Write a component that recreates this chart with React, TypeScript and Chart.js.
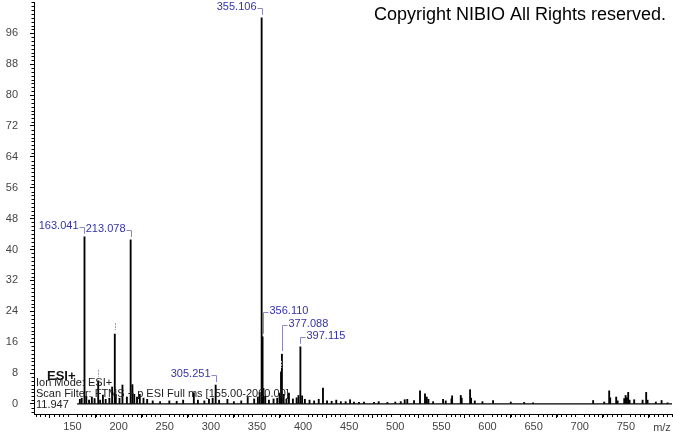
import React, { useEffect, useRef } from "react";
import { Chart, registerables } from "chart.js";

Chart.register(...registerables);

// ---- data (m/z, relative abundance) ----
const SCAN_RANGE_START = 155;
const X_MIN = 108.3;
const X_MAX = 800;
const Y_MIN = -2.6;
const Y_MAX = 104.1;

const MZ = [
  158, 160, 163.041, 165, 168, 171, 174, 177.9, 180, 183, 186, 190, 193, 195.9, 197, 201, 204.2, 209,
  213.078, 215, 217, 220, 223, 227, 231, 237, 245, 255, 263, 270, 281.6, 286, 293, 298, 302, 305.251,
  309, 318, 325, 333, 340, 347, 351, 353, 355.106, 356.11, 357.1, 359, 363, 368, 372, 374.5, 376.1,
  377.088, 379, 382, 384.7, 389, 393, 395, 397.115, 399, 402, 407, 412, 417, 421.6, 426, 431, 436,
  441, 446.2, 451, 455.2, 460.6, 466, 476.9, 482, 491.4, 500, 505.9, 510.2, 513, 520.3, 526.8, 532.2,
  534.1, 535.9, 541, 551.8, 554.7, 560.9, 561.6, 571, 572, 581.1, 582.2, 586.2, 594.5, 606, 625.2,
  639.7, 649.4, 714.5, 726.5, 731.9, 733, 739.5, 741, 748.2, 749.7, 751.1, 752.5, 754, 759, 768.1,
  772, 773.5, 782.5, 788.7, 795.2,
];
const INTENSITY = [
  1.2, 1.5, 43.3, 2.0, 1.0, 1.8, 1.4, 6.0, 1.0, 2.3, 1.2, 1.5, 4.4, 18.1, 2.5, 1.5, 4.9, 1.8,
  42.5, 5.0, 2.5, 1.8, 2.5, 1.5, 1.2, 0.8, 0.6, 0.8, 0.7, 1.0, 2.9, 1.0, 0.8, 1.2, 1.5, 4.9,
  1.0, 1.2, 0.6, 0.8, 1.7, 1.3, 1.8, 3.0, 100, 17.4, 4.0, 2.0, 1.0, 1.3, 1.5, 2.8, 8.3,
  12.9, 2.5, 1.2, 2.8, 1.3, 1.6, 2.2, 14.8, 2.1, 1.2, 1.0, 0.8, 1.2, 4.1, 0.8, 0.7, 1.0,
  0.6, 0.6, 1.1, 0.5, 0.4, 0.5, 0.4, 0.6, 0.4, 0.5, 0.6, 1.1, 1.2, 0.9, 3.4, 2.6,
  1.8, 1.2, 0.6, 1.2, 0.8, 1.3, 2.1, 2.2, 1.5, 3.7, 1.5, 0.8, 0.6, 0.9, 0.5,
  0.4, 0.3, 0.9, 0.5, 3.4, 1.6, 1.8, 0.8, 1.4, 2.2, 1.6, 3.0, 1.0, 1.1, 1.0,
  3.0, 1.0, 0.5, 0.9, 0.3,
];

const LABELED_PEAKS = [163.041, 213.078, 305.251, 355.106, 356.11, 377.088, 397.115];
const LABEL_TEXTS = ["163.041", "213.078", "305.251", "355.106", "356.110", "377.088", "397.115"];
const LABEL_TEXT_Y = [46.2, 45.2, 7.8, 102.7, 24.2, 20.8, 17.7];
const LABEL_SIDE = ["left", "left", "left", "left", "right", "right", "right"];
const MARKED_PEAKS = [177.9, 195.9, 376.1];

const X_TICK_STEP = 50;
const X_MINOR_STEP = 5;
const Y_TICK_STEP = 8;
const Y_MINOR_STEP = 1;

const COPYRIGHT = "Copyright NIBIO All Rights reserved.";
const INFO_TITLE = "ESI+";
const INFO_LINES = ["Ion Mode: ESI+", "Scan Filter: FTMS + p ESI Full ms [155.00-2000.00]", "11.947"];
const X_UNIT = "m/z";

const FONT = "Arial, 'Liberation Sans', sans-serif";

function intensityOf(mz: number): number {
  const i = MZ.indexOf(mz);
  return i >= 0 ? INTENSITY[i] : 0;
}

const overlayPlugin = {
  id: "overlay",
  afterDraw(chart: any) {
    const ctx = chart.ctx;
    const xs = chart.scales.x;
    const ys = chart.scales.y;
    const area = chart.chartArea;
    ctx.save();

    // minor ticks
    ctx.strokeStyle = "#000";
    ctx.lineWidth = 1;
    ctx.beginPath();
    for (let v = Math.ceil(Y_MIN); v <= Y_MAX; v += Y_MINOR_STEP) {
      if (v % Y_TICK_STEP === 0 && v >= 0 && v <= 96) continue;
      const py = Math.round(ys.getPixelForValue(v)) + 0.5;
      ctx.moveTo(area.left - 2.5, py);
      ctx.lineTo(area.left, py);
    }
    for (let v = 110; v <= X_MAX; v += X_MINOR_STEP) {
      if (v % X_TICK_STEP === 0 && v >= 150 && v <= 750) continue;
      const px = Math.round(xs.getPixelForValue(v)) + 0.5;
      ctx.moveTo(px, area.bottom);
      ctx.lineTo(px, area.bottom + 3);
    }
    ctx.stroke();

    // labels with brackets
    ctx.font = "11px " + FONT;
    ctx.textBaseline = "middle";
    LABELED_PEAKS.forEach((mz, i) => {
      const px = Math.round(xs.getPixelForValue(mz)) + 0.5;
      const top = ys.getPixelForValue(intensityOf(mz));
      const ty = ys.getPixelForValue(LABEL_TEXT_Y[i]);
      const by = Math.round(ty + 1) + 0.5;
      ctx.strokeStyle = "#8a8ab8";
      ctx.beginPath();
      if (LABEL_SIDE[i] === "left") {
        ctx.moveTo(px - 5, by);
      } else {
        ctx.moveTo(px + 5, by);
      }
      ctx.lineTo(px, by);
      ctx.lineTo(px, top - 3);
      ctx.stroke();
      ctx.fillStyle = "#3434a4";
      if (LABEL_SIDE[i] === "left") {
        ctx.textAlign = "right";
        ctx.fillText(LABEL_TEXTS[i], px - 6, ty);
      } else {
        ctx.textAlign = "left";
        ctx.fillText(LABEL_TEXTS[i], px + 6, ty);
      }
    });

    // unlabeled markers
    ctx.strokeStyle = "#9c9cb8";
    ctx.setLineDash([2, 1]);
    MARKED_PEAKS.forEach((mz) => {
      const px = Math.round(xs.getPixelForValue(mz)) + 0.5;
      const top = ys.getPixelForValue(intensityOf(mz));
      ctx.beginPath();
      ctx.moveTo(px, top - 11);
      ctx.lineTo(px, top - 4);
      ctx.stroke();
    });
    ctx.setLineDash([]);

    // copyright
    ctx.fillStyle = "#000";
    ctx.font = "18px " + FONT;
    ctx.textAlign = "right";
    ctx.textBaseline = "middle";
    ctx.fillText(COPYRIGHT, chart.width - 7, 15);

    // info block
    ctx.textAlign = "left";
    ctx.fillStyle = "#111";
    ctx.font = "bold 13px " + FONT;
    ctx.fillText(INFO_TITLE, area.left + 13, area.bottom - 38);
    ctx.font = "11px " + FONT;
    ctx.fillStyle = "#222";
    ctx.fillText(INFO_LINES[0], area.left + 2, area.bottom - 31.5);
    ctx.fillText(INFO_LINES[1], area.left + 2, area.bottom - 20);
    ctx.fillText(INFO_LINES[2], area.left + 2, area.bottom - 9.5);

    // axis unit
    ctx.fillStyle = "#444";
    ctx.textAlign = "center";
    ctx.fillText(X_UNIT, area.right - 10, area.bottom + 14);

    ctx.restore();
  },
};

export default function App() {
  const ref = useRef<HTMLCanvasElement | null>(null);

  useEffect(() => {
    document.body.style.margin = "0";
    const canvas = ref.current;
    if (!canvas) return;
    const chart = new Chart(canvas, {
      type: "bar",
      data: {
        datasets: [
          {
            type: "bar",
            data: MZ.map((x, i) => ({ x, y: INTENSITY[i] })),
            backgroundColor: "#000",
            borderWidth: 0,
            barThickness: 1.2,
            grouped: false,
            order: 1,
          } as any,
          {
            type: "line",
            data: [
              { x: SCAN_RANGE_START, y: 0 },
              { x: X_MAX, y: 0 },
            ],
            borderColor: "#000",
            borderWidth: 1.2,
            pointRadius: 0,
            order: 0,
          } as any,
        ],
      },
      options: {
        responsive: false,
        animation: false,
        layout: { padding: { top: 2, right: 1, left: 0, bottom: 0 } },
        plugins: {
          legend: { display: false },
          tooltip: { enabled: false },
        },
        scales: {
          x: {
            type: "linear",
            min: X_MIN,
            max: X_MAX,
            offset: false,
            afterBuildTicks: (s: any) => {
              s.ticks = s.ticks.filter((t: any) => t.value >= 150 && t.value <= 750);
            },
            afterFit: (s: any) => {
              s.height = 19;
              s.paddingLeft = 0;
              s.paddingRight = 0;
            },
            ticks: {
              stepSize: X_TICK_STEP,
              includeBounds: false,
              autoSkip: false,
              maxRotation: 0,
              color: "#444",
              padding: 2,
              font: { size: 11, family: FONT },
            },
            grid: { drawOnChartArea: false, drawTicks: true, tickLength: 4, color: "#000" },
            border: { display: true, color: "#000", width: 1 },
          },
          y: {
            type: "linear",
            min: Y_MIN,
            max: Y_MAX,
            afterBuildTicks: (s: any) => {
              s.ticks = s.ticks.filter((t: any) => t.value >= 0 && t.value <= 96);
            },
            afterFit: (s: any) => {
              s.width = 34;
              s.paddingTop = 0;
              s.paddingBottom = 0;
            },
            ticks: {
              stepSize: Y_TICK_STEP,
              includeBounds: false,
              autoSkip: false,
              color: "#444",
              padding: 12,
              font: { size: 11, family: FONT },
            },
            grid: { drawOnChartArea: false, drawTicks: true, tickLength: 4, color: "#000" },
            border: { display: true, color: "#000", width: 1 },
          },
        },
      },
      plugins: [overlayPlugin],
    });
    return () => chart.destroy();
  }, []);

  return (
    <div style={{ width: 673, height: 433, background: "#fff" }}>
      <canvas ref={ref} width={673} height={433} style={{ display: "block" }} />
    </div>
  );
}
